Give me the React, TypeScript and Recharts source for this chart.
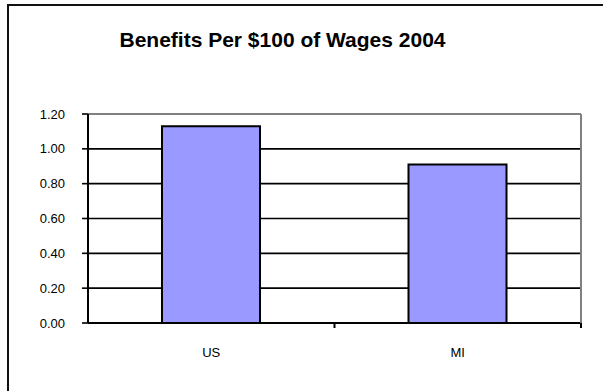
import React from "react";
import { BarChart, Bar, XAxis, YAxis, CartesianGrid, ReferenceLine } from "recharts";

const categories = ["US", "MI"];
const benefits = [1.13, 0.91];
const yTicks = [0, 0.2, 0.4, 0.6, 0.8, 1.0, 1.2];
const title = "Benefits Per $100 of Wages 2004";

const data = categories.map((c, i) => ({ name: c, value: benefits[i] }));

const FONT = "'Liberation Sans', Arial, sans-serif";

const CategoryTick = (props: any) => {
  const { x, y, payload, index, visibleTicksCount } = props;
  const off = payload && payload.offset ? payload.offset : 0;
  const count = typeof visibleTicksCount === "number" ? visibleTicksCount : categories.length;
  const isLast = index === count - 1;
  return (
    <g>
      {index > 0 && (
        <line x1={x - off} x2={x - off} y1={y - 25} y2={y - 20} stroke="#000" strokeWidth={2} />
      )}
      {isLast && (
        <line x1={x + off} x2={x + off} y1={y - 25} y2={y - 20} stroke="#000" strokeWidth={2} />
      )}
      <text x={x} y={y} dy="0.71em" textAnchor="middle" fill="#000" fontSize={13} fontFamily={FONT}>
        {payload.value}
      </text>
    </g>
  );
};

export default function App() {
  return (
    <div
      style={{
        position: "fixed",
        left: 0,
        top: 0,
        width: 603,
        height: 391,
        overflow: "hidden",
        background: "#fff",
        fontFamily: FONT,
      }}
    >
      <div style={{ position: "absolute", left: 7, top: 4, width: 700, height: 2, background: "#111" }} />
      <div style={{ position: "absolute", left: 7, top: 4, width: 2, height: 500, background: "#111" }} />
      <div
        style={{
          position: "absolute",
          left: 0,
          width: 565,
          top: 29,
          textAlign: "center",
          fontWeight: "bold",
          fontSize: 21,
          lineHeight: "21px",
          color: "#000",
        }}
      >
        {title}
      </div>
      <div style={{ position: "absolute", left: 0, top: 0 }}>
        <BarChart
          width={603}
          height={391}
          data={data}
          margin={{ top: 114, right: 21, bottom: 28, left: 0 }}
        >
          <CartesianGrid vertical={false} stroke="#000" strokeWidth={1.6} />
          <XAxis
            dataKey="name"
            tickLine={false}
            axisLine={{ stroke: "#000", strokeWidth: 2 }}
            tickSize={0}
            tickMargin={25}
            height={40}
            tick={<CategoryTick />}
          />
          <YAxis
            domain={[0, 1.2]}
            ticks={yTicks}
            width={88}
            tickSize={6}
            tickMargin={17}
            tickFormatter={(v: number) => v.toFixed(2)}
            axisLine={{ stroke: "#000", strokeWidth: 2 }}
            tickLine={{ stroke: "#000", strokeWidth: 1.6 }}
            tick={{ fill: "#000", fontSize: 13, fontFamily: FONT }}
          />
          <YAxis
            yAxisId="r"
            orientation="right"
            width={1}
            domain={[0, 1.2]}
            tick={false}
            tickLine={false}
            axisLine={{ stroke: "#808080", strokeWidth: 2 }}
          />
          <Bar
            dataKey="value"
            fill="#9999FF"
            stroke="#000"
            strokeWidth={2}
            barSize={98}
            isAnimationActive={false}
          />
          <ReferenceLine y={1.2} stroke="#808080" strokeWidth={2} />
        </BarChart>
      </div>
    </div>
  );
}
